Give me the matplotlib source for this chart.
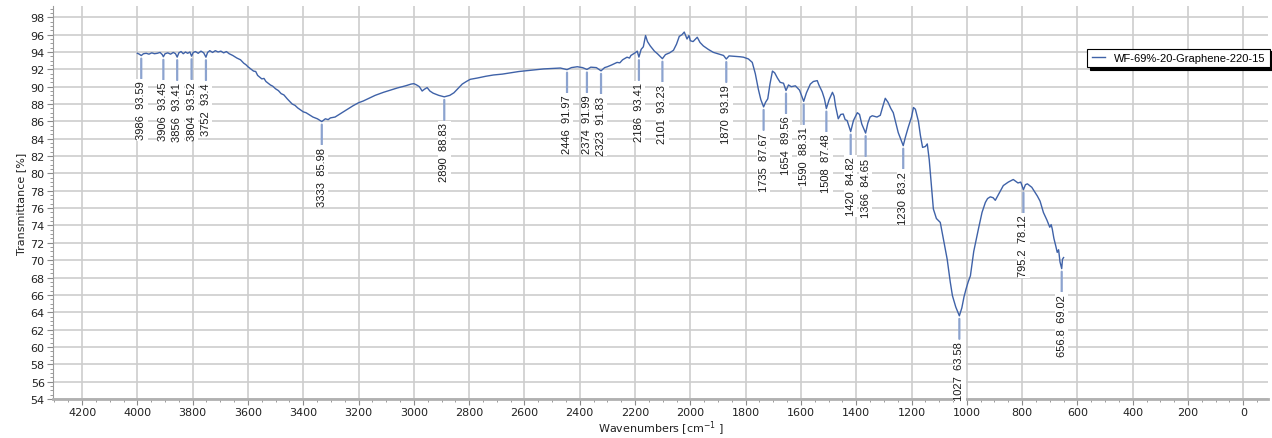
import matplotlib
matplotlib.use("Agg")
import matplotlib.pyplot as plt
from matplotlib.ticker import MultipleLocator

# FTIR spectrum, wavenumber [cm-1] vs transmittance [%]
wavenumbers = [
    4000, 3993, 3986, 3978, 3968, 3958, 3948, 3938, 3928, 3918, 3910, 3906, 3900,
    3890, 3880, 3870, 3862, 3856, 3850, 3842, 3834, 3826, 3818, 3810, 3804, 3798,
    3790, 3780, 3770, 3760, 3752, 3746, 3738, 3728, 3718, 3708, 3698, 3688, 3678,
    3668, 3655, 3640, 3627, 3615, 3608, 3600, 3590, 3580, 3572, 3565, 3550, 3542,
    3535, 3519, 3510, 3500, 3490, 3480, 3470, 3458, 3440, 3430, 3420, 3400, 3390,
    3380, 3365, 3349, 3333, 3320, 3310, 3302, 3285, 3270, 3255, 3240, 3220, 3200,
    3183, 3160, 3140, 3110, 3085, 3060, 3030, 3010, 3000, 2990, 2980, 2970, 2962,
    2952, 2942, 2930, 2910, 2890, 2870, 2855, 2840, 2825, 2810, 2796, 2770, 2740,
    2712, 2680, 2650, 2620, 2590, 2560, 2530, 2500, 2470, 2446, 2430, 2409, 2390,
    2374, 2360, 2340, 2323, 2310, 2300, 2285, 2265, 2255, 2245, 2229, 2220, 2215,
    2200, 2192, 2186, 2178, 2170, 2162, 2155, 2145, 2130, 2119, 2101, 2090, 2075,
    2061, 2050, 2040, 2030, 2022, 2012, 2005, 2000, 1990, 1975, 1965, 1953, 1935,
    1917, 1895, 1880, 1870, 1860, 1840, 1820, 1808, 1790, 1776, 1765, 1754, 1745,
    1735, 1728, 1720, 1712, 1703, 1695, 1685, 1675, 1663, 1654, 1645, 1635, 1620,
    1605, 1590, 1580, 1566, 1555, 1541, 1535, 1523, 1515, 1508, 1498, 1486, 1480,
    1475, 1465, 1456, 1447, 1440, 1433, 1420, 1410, 1396, 1388, 1380, 1366, 1358,
    1350, 1342, 1325, 1313, 1305, 1295, 1285, 1275, 1266, 1255, 1248, 1230, 1222,
    1212, 1200, 1193, 1186, 1175, 1168, 1160, 1150, 1143, 1136, 1128, 1121, 1110,
    1096, 1085, 1071, 1060, 1052, 1040, 1027, 1018, 1010, 1003, 995, 987, 975,
    958, 945, 933, 925, 915, 905, 897, 885, 868, 850, 832, 815, 805, 795.2, 788,
    781, 765, 745, 735, 723, 710, 700, 695, 691, 685, 678, 673, 668, 663, 656.8,
    654, 650,
]
transmittance = [
    93.85, 93.75, 93.59, 93.8, 93.85, 93.75, 93.9, 93.8, 93.85, 93.95, 93.7, 93.45, 93.8,
    93.9, 93.75, 93.95, 93.8, 93.41, 93.9, 94.05, 93.8, 94.0, 93.85, 94.0, 93.52, 93.95,
    94.05, 93.85, 94.1, 93.9, 93.4, 93.95, 94.15, 93.95, 94.15, 94.0, 94.1, 93.9, 94.05,
    93.8, 93.6, 93.3, 93.1, 92.7, 92.55, 92.3, 92.05, 91.8, 91.75, 91.3, 90.9, 90.95,
    90.6, 90.2, 90.05, 89.75, 89.55, 89.2, 89.05, 88.6, 88.0, 87.85, 87.55, 87.1, 87.0,
    86.8, 86.5, 86.3, 85.98, 86.3, 86.2, 86.4, 86.5, 86.8, 87.1, 87.4, 87.8, 88.15,
    88.35, 88.7, 89.0, 89.35, 89.6, 89.85, 90.1, 90.3, 90.35, 90.2, 90.0, 89.5, 89.7,
    89.9, 89.5, 89.25, 89.0, 88.83, 89.0, 89.3, 89.8, 90.3, 90.6, 90.85, 91.0, 91.2,
    91.35, 91.45, 91.6, 91.75, 91.85, 91.95, 92.05, 92.1, 92.15, 91.97, 92.2, 92.3, 92.2,
    91.99, 92.25, 92.2, 91.83, 92.2, 92.3, 92.5, 92.8, 92.75, 93.1, 93.4, 93.3, 93.6,
    93.9, 94.1, 93.41, 94.3, 94.6, 95.9, 95.2, 94.7, 94.1, 93.8, 93.23, 93.7, 93.9,
    94.2, 94.9, 95.8, 96.0, 96.3, 95.5, 95.9, 95.3, 95.2, 95.7, 95.1, 94.7, 94.3,
    93.96, 93.75, 93.6, 93.19, 93.55, 93.5, 93.45, 93.4, 93.2, 92.8, 91.5, 89.7, 88.5,
    87.67, 88.2, 88.6, 90.3, 91.8, 91.6, 91.0, 90.5, 90.4, 89.56, 90.2, 90.0, 90.1,
    89.6, 88.31, 89.3, 90.3, 90.6, 90.7, 90.2, 89.4, 88.6, 87.48, 88.5, 89.35, 88.9,
    87.8, 86.3, 86.8, 86.85, 86.2, 86.1, 84.82, 86.1, 87.0, 86.8, 85.7, 84.65, 85.8,
    86.5, 86.65, 86.5, 86.7, 87.6, 88.66, 88.2, 87.5, 87.0, 85.6, 84.7, 83.2, 84.2,
    85.3, 86.5, 87.6, 87.4, 86.0, 84.4, 83.0, 83.1, 83.4, 81.6, 78.5, 75.9, 74.8,
    74.35, 72.5, 70.1, 67.5, 65.9, 64.6, 63.58, 64.5, 65.8, 66.65, 67.5, 68.2, 71.0,
    73.6, 75.5, 76.65, 77.1, 77.3, 77.2, 76.9, 77.6, 78.6, 79.0, 79.3, 78.9, 79.0, 78.12, 78.7,
    78.8, 78.4, 77.4, 76.8, 75.5, 74.6, 73.8, 74.1, 73.6, 72.5, 71.6, 70.9, 71.2, 69.8, 69.02,
    70.1, 70.3,
]

# picked peaks
peak_wn = [3986, 3906, 3856, 3804, 3752, 3333, 2890, 2446, 2374, 2323, 2186, 2101,
           1870, 1735, 1654, 1590, 1508, 1420, 1366, 1230, 1027, 795.2, 656.8]
peak_t = [93.59, 93.45, 93.41, 93.52, 93.4, 85.98, 88.83, 91.97, 91.99, 91.83, 93.41, 93.23,
          93.19, 87.67, 89.56, 88.31, 87.48, 84.82, 84.65, 83.2, 63.58, 78.12, 69.02]

series_name = "WF-69%-20-Graphene-220-15"
line_color = "#3f62a8"

fig = plt.figure(figsize=(12.72, 4.39), dpi=100)
ax = fig.add_axes([0.0417, 0.089, 0.9553, 0.895])

ax.plot(wavenumbers, transmittance, color=line_color, lw=1.0, label=series_name, zorder=3)

# peak markers: short tick under the peak, then rotated label
for w, t in zip(peak_wn, peak_t):
    ax.annotate("", xy=(w, t), xycoords="data", xytext=(0, -23), textcoords="offset pixels",
                arrowprops=dict(arrowstyle="-", color="#8ca3cf", lw=1.6, shrinkA=0, shrinkB=2.2),
                zorder=4)
    ax.annotate(f"{w:g}  {t:g}", xy=(w, t), xycoords="data", xytext=(0, -25),
                textcoords="offset pixels", rotation=90, ha="center", va="top",
                fontsize=8, family="Liberation Sans", color="#1a1a1a", zorder=5,
                bbox=dict(boxstyle="square,pad=0.12", fc="white", ec="none"))

ax.set_xlim(4305, -90)
ax.set_ylim(54, 99.3)
ax.xaxis.set_major_locator(MultipleLocator(200))
ax.xaxis.set_minor_locator(MultipleLocator(50))
ax.yaxis.set_major_locator(MultipleLocator(2))
ax.yaxis.set_minor_locator(MultipleLocator(0.5))

ax.grid(True, which="major", color="#cdcdcd", lw=1.2)
ax.set_axisbelow(True)
for side in ["top", "right"]:
    ax.spines[side].set_visible(False)
ax.spines["left"].set_color("#9a9a9a")
ax.spines["bottom"].set_color("#b0b0b0")
ax.spines["bottom"].set_linewidth(2)
ax.tick_params(which="major", direction="out", length=4, color="#8a8a8a",
               labelsize=8, labelcolor="#222222", pad=2)
ax.tick_params(which="minor", direction="out", length=2, color="#8a8a8a")

ax.set_ylabel("Transmittance [%]", fontsize=8, color="#222222", labelpad=3)
ax.set_xlabel("Wavenumbers [cm$^{-1}$ ]", fontsize=8, color="#222222", labelpad=1)

leg = ax.legend(loc="upper right", bbox_to_anchor=(0.9985, 0.887), bbox_transform=fig.transFigure,
                borderaxespad=0, fancybox=False, shadow=dict(color="black", alpha=1.0),
                handlelength=1.2, framealpha=1,
                prop={"family": "Liberation Sans", "size": 8})
leg.get_frame().set_edgecolor("black")
leg.get_frame().set_linewidth(0.8)

fig.savefig("out.png", dpi=100)
